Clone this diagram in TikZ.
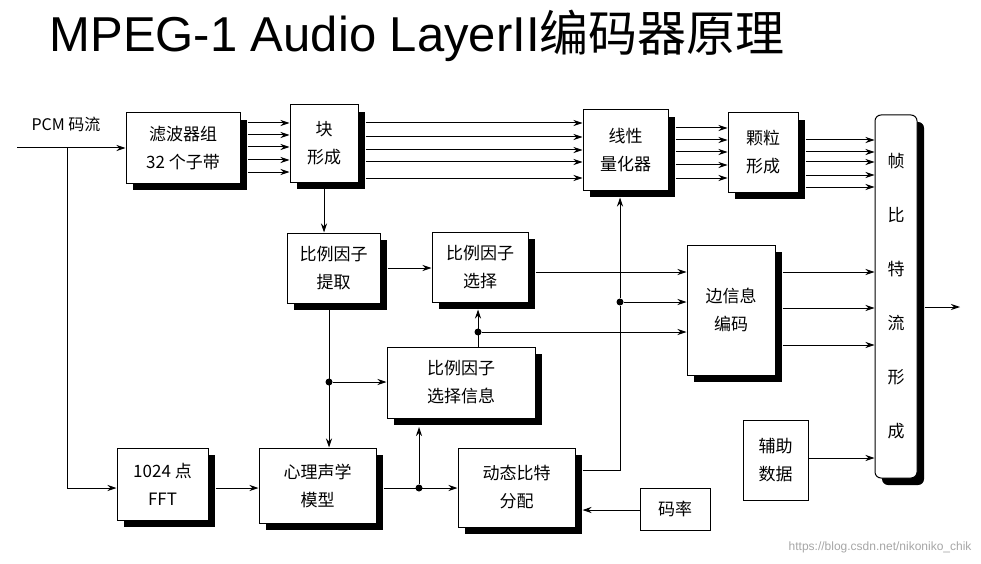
\documentclass[tikz,border=0pt]{standalone}
\usepackage{fontspec}
\setmainfont{Liberation Sans}
\newfontfamily\cjk{Noto Sans CJK SC}
\usetikzlibrary{shadows,arrows.meta,calc}
\begin{document}
\begin{tikzpicture}[x=1pt,y=-1pt,
  box/.style={draw,fill=white,line width=1pt,align=center,inner sep=0pt,font=\cjk\fontsize{17}{28}\selectfont,
    drop shadow={shadow xshift=7pt,shadow yshift=-7pt,fill=black,opacity=1}},
  plain/.style={draw,fill=white,line width=1pt,align=center,inner sep=0pt,font=\cjk\fontsize{17}{28}\selectfont},
  ar/.style={line width=1pt,-{Stealth[length=9pt,width=6pt]}},
  ln/.style={line width=1pt},
  dot/.style={circle,fill=black,inner sep=0pt,minimum size=7pt}]
\useasboundingbox (0,0) rectangle (981,564);
\node[anchor=west,font=\fontsize{49}{49}\selectfont] (title) at (46,36) {MPEG-1 Audio LayerII{\cjk 编码器原理}};
\node[font=\cjk\fontsize{16}{16}\selectfont] (pcm) at (66,124) {PCM 码流};
\node[box,minimum width=114pt,minimum height=70pt] (filt) at (183,148) {滤波器组\\32 个子带};
\node[box,minimum width=68pt,minimum height=77pt] (blk) at (324,143.5) {块\\形成};
\node[box,minimum width=93pt,minimum height=70pt] (ext) at (333.5,268) {比例因子\\提取};
\node[box,minimum width=96pt,minimum height=70pt] (sel) at (480,267) {比例因子\\选择};
\node[box,minimum width=85pt,minimum height=80pt] (quant) at (625.5,150) {线性\\量化器};
\node[box,minimum width=70pt,minimum height=79pt] (gran) at (763,152.5) {颗粒\\形成};
\node[box,rounded corners=6pt,minimum width=42pt,minimum height=363pt,font=\cjk\fontsize{17}{54}\selectfont] (frame) at (896,296.5) {帧\\比\\特\\流\\形\\成};
\node[box,minimum width=88pt,minimum height=130pt] (side) at (731,310) {边信息\\编码};
\node[plain,minimum width=65pt,minimum height=80pt] (aux) at (775.5,460) {辅助\\数据};
\node[plain,minimum width=70pt,minimum height=42pt] (rate) at (675,509) {码率};
\node[box,minimum width=148pt,minimum height=71pt] (sinfo) at (461,382.5) {比例因子\\选择信息};
\node[box,minimum width=91pt,minimum height=72pt] (fft) at (162.5,484) {1024 点\\FFT};
\node[box,minimum width=117pt,minimum height=75pt] (psy) at (317.5,485.5) {心理声学\\模型};
\node[box,minimum width=117pt,minimum height=79pt] (dyn) at (516.5,487.5) {动态比特\\分配};
\node[font=\fontsize{12}{12}\selectfont,text=black!35,anchor=east] (wm) at (975,547) {https://blog.csdn.net/nikoniko\_chik};
% coordinates
\coordinate (pin) at (17,148);
\coordinate (pb) at (67,148);
\coordinate (fout) at (960,307);
\node[dot] (d1) at (329,382) {};
\node[dot] (d2) at (419,488) {};
\node[dot] (d3) at (620,302) {};
\node[dot] (d4) at (478,332) {};
% PCM
\draw[ar] (pin) -- (filt.west);
\draw[ln] (pb) -- (pb |- {(0,488)});
\draw[ar] (pb |- {(0,488)}) -- (fft.west |- {(0,488)});
% multi-lines
\foreach \y in {123,135,147,160,172}{\draw[ar] (filt.east |- {(0,\y)}) ++(7,0) -- (blk.west |- {(0,\y)});}
\foreach \y in {123,137,150,162,178}{\draw[ar] (blk.east |- {(0,\y)}) ++(7,0) -- (quant.west |- {(0,\y)});}
\foreach \y in {128,140,152,165,178}{\draw[ar] (quant.east |- {(0,\y)}) ++(7,0) -- (gran.west |- {(0,\y)});}
\foreach \y in {140,152,162,175,187}{\draw[ar] (gran.east |- {(0,\y)}) ++(7,0) -- (frame.west |- {(0,\y)});}
\draw[ar] (blk.south) -- (blk.south |- ext.north);
\draw[ar] (ext.east |- {(0,268)}) ++(7,0) -- (sel.west |- {(0,268)});
\draw[ar] (sel.east |- {(0,272)}) ++(7,0) -- (side.west |- {(0,272)});
\draw[ar] (d3) -- (side.west |- d3);
\draw[ar] (d4) -- (side.west |- d4);
\draw[ar] (sinfo.north -| d4) -- ($(sel.south -| d4)+(0,7)$);
\foreach \y in {272,308,345}{\draw[ar] (side.east |- {(0,\y)}) ++(7,0) -- (frame.west |- {(0,\y)});}
\draw[ar] (aux.east |- {(0,458)}) -- (frame.west |- {(0,458)});
\draw[ar] (frame.east |- fout) ++(7,0) -- (fout);
\draw[ln] (dyn.east |- {(0,470)}) ++(7,0) -| (d3);
\draw[ar] (d3) -- ($(quant.south -| d3)+(0,7)$);
\draw[ar] (ext.south -| d1) -- (psy.north -| d1);
\draw[ar] (d1) -- (sinfo.west |- d1);
\draw[ar] (fft.east |- {(0,488)}) ++(7,0) -- (psy.west |- {(0,488)});
\draw[ar] (psy.east |- d2) ++(7,0) -- (dyn.west |- d2);
\draw[ar] (d2) -- (d2 |- {(0,427)});
\draw[ar] (rate.west |- {(0,510)}) -- ($(dyn.east |- {(0,510)})+(7,0)$);
\end{tikzpicture}
\end{document}
